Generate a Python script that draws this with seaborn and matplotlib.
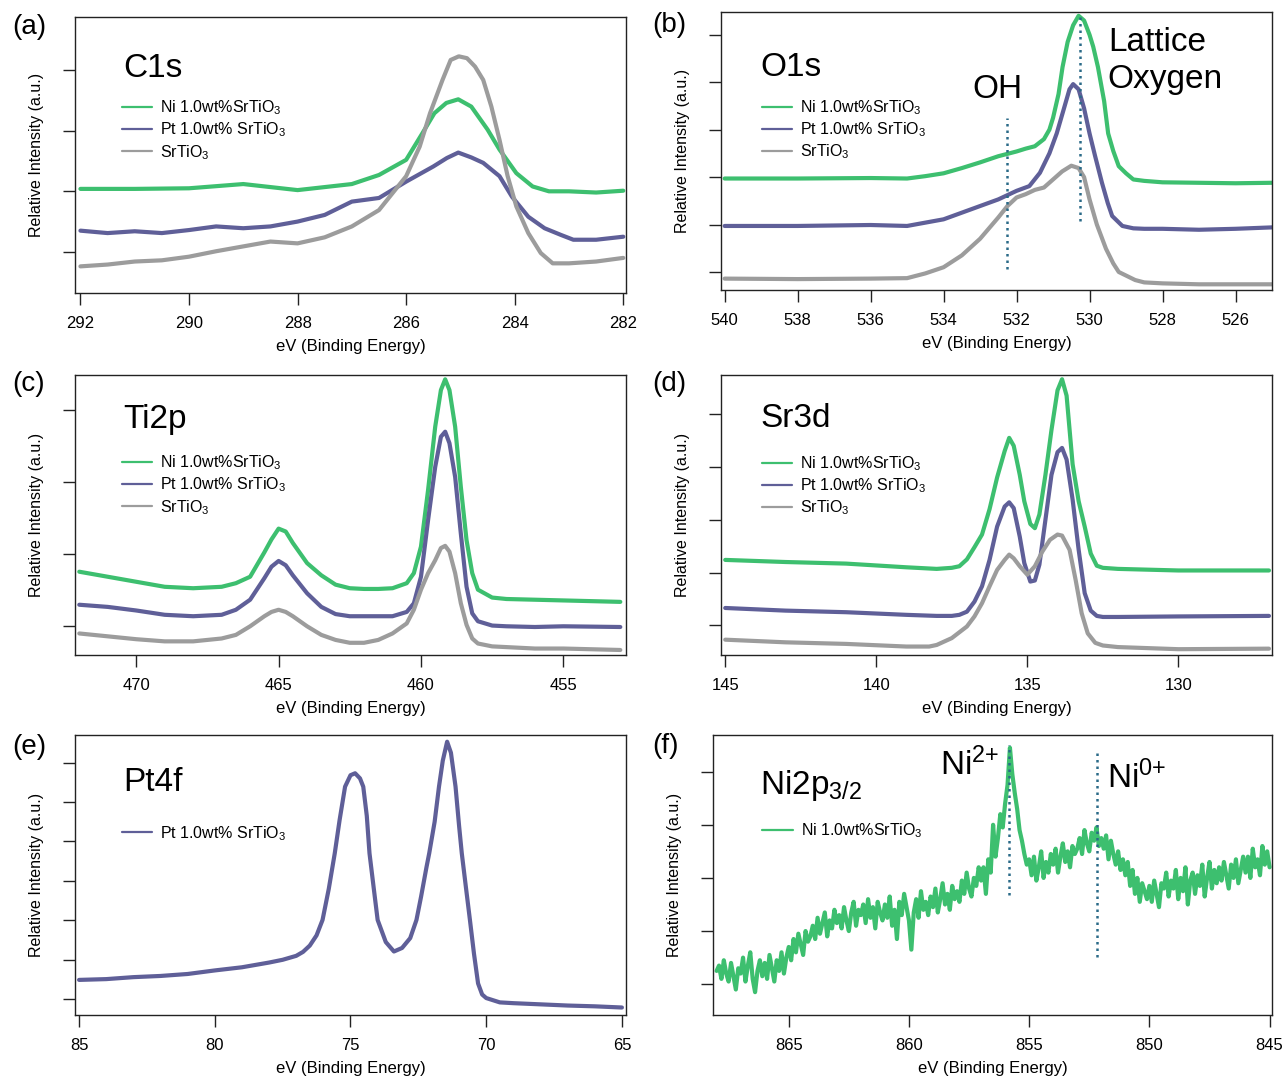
import numpy as np
import pandas as pd
import seaborn as sns
import matplotlib.pyplot as plt

# Colores
GREEN = "#3dbf6f"
PURPLE = "#5f5f98"
GRAY = "#9c9c9c"
DOT = "#2a6a88"

LAB_NI = r"Ni 1.0wt%SrTiO$_3$"
LAB_PT = r"Pt 1.0wt% SrTiO$_3$"
LAB_ST = r"SrTiO$_3$"

# ---- (a) C1s ----
c1s_ni_ev = [292, 291, 290, 289, 288, 287.5, 287, 286.5, 286, 285.7, 285.48, 285.26, 285.04,
             284.8, 284.5, 284.28, 283.97, 283.67, 283.37, 283, 282.5, 282]
c1s_ni = [1.04, 1.04, 1.05, 1.12, 1.02, 1.07, 1.12, 1.27, 1.52, 1.96, 2.29, 2.46, 2.52,
          2.40, 2.02, 1.69, 1.30, 1.08, 1.00, 1.00, 0.98, 1.01]
c1s_pt_ev = [292, 291.5, 291, 290.5, 290, 289.5, 289, 288.5, 288, 287.5, 287, 286.5, 286,
             285.5, 285.25, 285.04, 284.8, 284.58, 284.28, 284.05, 283.75, 283.45, 283.15,
             282.92, 282.5, 282]
c1s_pt = [0.35, 0.31, 0.34, 0.31, 0.36, 0.42, 0.39, 0.42, 0.50, 0.61, 0.83, 0.89, 1.16,
          1.41, 1.55, 1.64, 1.56, 1.47, 1.25, 0.91, 0.58, 0.39, 0.28, 0.20, 0.20, 0.25]
c1s_st_ev = [292, 291.5, 291, 290.5, 290, 289.5, 289, 288.5, 288, 287.5, 287, 286.5, 286,
             285.75, 285.56, 285.33, 285.18, 285.03, 284.88, 284.73, 284.58, 284.43, 284.28,
             284.13, 283.97, 283.75, 283.52, 283.3, 283, 282.5, 282]
c1s_st = [-0.24, -0.21, -0.16, -0.14, -0.08, 0.01, 0.09, 0.17, 0.14, 0.24, 0.42, 0.69, 1.25,
          1.74, 2.29, 2.84, 3.17, 3.23, 3.20, 3.06, 2.84, 2.40, 1.85, 1.25, 0.75, 0.31, -0.02,
          -0.19, -0.19, -0.16, -0.10]

# ---- (b) O1s ----
o1s_ni_ev = [540, 538, 536, 535, 534.5, 534, 533.5, 533, 532.5, 532, 531.75, 531.5, 531.25,
             531.1, 531, 530.85, 530.74, 530.6, 530.45, 530.3, 530.15, 530.0, 529.9, 529.77,
             529.6, 529.49, 529.35, 529.2, 529.0, 528.8, 528.5, 528, 527, 526, 525]
o1s_ni = [1.97, 1.97, 1.98, 1.97, 2.02, 2.08, 2.19, 2.31, 2.44, 2.54, 2.60, 2.65, 2.80,
          3.00, 3.25, 3.75, 4.32, 4.85, 5.20, 5.40, 5.30, 5.00, 4.75, 4.32,
          3.60, 2.92, 2.55, 2.23, 2.08, 1.95, 1.92, 1.89, 1.88, 1.87, 1.88]
o1s_pt_ev = [540, 538, 536, 535, 534.5, 534, 533.5, 533, 532.5, 532, 531.65, 531.36, 531.1,
             530.9, 530.7, 530.55, 530.45, 530.3, 530.15, 530.0, 529.85, 529.66, 529.5,
             529.38, 529.1, 528.8, 528.5, 528, 527, 526, 525]
o1s_pt = [0.97, 0.97, 0.99, 0.97, 1.04, 1.11, 1.25, 1.39, 1.53, 1.71, 1.81, 2.09, 2.50,
          2.92, 3.45, 3.85, 3.96, 3.85, 3.45, 2.92, 2.45, 1.88, 1.45,
          1.18, 0.97, 0.92, 0.91, 0.91, 0.89, 0.91, 0.94]
o1s_st_ev = [540, 538, 536, 535, 534.5, 534, 533.5, 533, 532.5, 532.25, 532, 531.75, 531.5,
             531.25, 531, 530.75, 530.5, 530.3, 530.15, 530.0, 529.8, 529.55, 529.35, 529.2,
             528.75, 528.5, 528, 527, 526, 525]
o1s_st = [-0.14, -0.15, -0.14, -0.13, -0.03, 0.10, 0.35, 0.70, 1.15, 1.39, 1.57, 1.64, 1.73,
          1.78, 1.95, 2.12, 2.24, 2.19, 2.00, 1.53, 1.00, 0.49, 0.18, 0.00,
          -0.17, -0.22, -0.24, -0.26, -0.26, -0.26]
oh_line = (532.25, 0.07, 3.24)
lattice_line = (530.25, 1.08, 5.45)

# ---- (c) Ti2p ----
ti_ev = [472, 471, 470, 469, 468, 467, 466.5, 466, 465.5, 465.25, 465, 464.75, 464.5, 464,
         463.5, 463, 462.5, 462, 461.5, 461, 460.5, 460.25, 460, 459.75, 459.5, 459.3,
         459.15, 459.0, 458.8, 458.6, 458.4, 458.2, 458, 457.5, 457, 456, 455, 453]
ti_ni = [0.75, 0.68, 0.61, 0.54, 0.52, 0.54, 0.59, 0.68, 1.02, 1.20, 1.35, 1.31, 1.15, 0.87,
         0.70, 0.57, 0.52, 0.51, 0.51, 0.52, 0.59, 0.73, 1.10, 1.89, 2.77, 3.28,
         3.43, 3.28, 2.77, 1.93, 1.19, 0.73, 0.50, 0.39, 0.37, 0.36, 0.35, 0.33]
ti_pt = [0.29, 0.26, 0.21, 0.15, 0.13, 0.15, 0.22, 0.36, 0.66, 0.82, 0.90, 0.84, 0.70, 0.45,
         0.26, 0.16, 0.13, 0.13, 0.13, 0.13, 0.19, 0.31, 0.68, 1.47, 2.21, 2.63,
         2.70, 2.54, 2.07, 1.28, 0.54, 0.17, 0.06, 0.00, -0.01, -0.02, -0.01, -0.02]
ti_st = [-0.11, -0.15, -0.19, -0.22, -0.22, -0.18, -0.13, -0.01, 0.13, 0.19, 0.22, 0.19, 0.13,
         -0.01, -0.13, -0.20, -0.24, -0.24, -0.20, -0.11, 0.03, 0.22, 0.50, 0.73, 0.91, 1.08,
         1.11, 1.03, 0.73, 0.31, 0.01, -0.18, -0.25, -0.29, -0.30, -0.32, -0.32, -0.34]

# ---- (d) Sr3d ----
sr_ev = [145, 143, 141, 139, 138, 137.5, 137.25, 137, 136.75, 136.5, 136.25, 136, 135.75,
         135.6, 135.45, 135.25, 135.1, 134.9, 134.75, 134.6, 134.4, 134.2, 134.0, 133.85,
         133.7, 133.5, 133.3, 133.1, 132.9, 132.7, 132.5, 132, 130, 127]
sr_ni = [1.24, 1.20, 1.17, 1.10, 1.07, 1.09, 1.12, 1.25, 1.48, 1.72, 2.20, 2.80, 3.30,
         3.55, 3.40, 2.85, 2.35, 1.92, 1.84, 2.10, 2.85, 3.70, 4.45, 4.66,
         4.35, 3.05, 2.35, 1.87, 1.36, 1.13, 1.09, 1.07, 1.04, 1.04]
sr_pt = [0.33, 0.28, 0.25, 0.20, 0.18, 0.18, 0.20, 0.26, 0.45, 0.74, 1.24, 1.87, 2.25,
         2.33, 2.22, 1.68, 1.18, 0.83, 0.85, 1.15, 2.00, 2.85, 3.28, 3.36,
         3.14, 2.38, 1.43, 0.61, 0.28, 0.18, 0.16, 0.16, 0.17, 0.18]
sr_st_ev = [145, 143, 141, 139, 138.25, 138, 137.5, 137, 136.75, 136.5, 136.25, 136, 135.75,
            135.6, 135.45, 135.25, 135.0, 134.75, 134.5, 134.25, 134.0, 133.85, 133.6, 133.4,
            133.2, 133.0, 132.75, 132.5, 132, 130, 127]
sr_st = [-0.27, -0.32, -0.35, -0.40, -0.40, -0.37, -0.24, -0.02, 0.17, 0.42, 0.74, 1.05, 1.24,
         1.34, 1.27, 1.12, 0.96, 1.12, 1.40, 1.62, 1.72, 1.70, 1.43, 0.86,
         0.23, -0.15, -0.33, -0.38, -0.41, -0.45, -0.44]

# ---- (e) Pt4f ----
pt4f_ev = [85, 84, 83, 82, 81, 80, 79, 78, 77.5, 77, 76.75, 76.5, 76.25, 76.03, 75.8, 75.58,
           75.4, 75.2, 75.0, 74.83, 74.65, 74.53, 74.4, 74.3, 74.15, 74.0, 73.7, 73.4, 73.1,
           72.8, 72.57, 72.4, 72.2, 72.1, 71.9, 71.74, 71.6, 71.44, 71.3, 71.13, 71.0, 70.9,
           70.75, 70.6, 70.45, 70.3, 70.15, 70.0, 69.5, 69, 68, 67, 66, 65]
pt4f_pt = [0.49, 0.51, 0.56, 0.59, 0.64, 0.73, 0.81, 0.93, 1.00, 1.10, 1.20, 1.36, 1.62, 2.01,
           2.80, 3.70, 4.55, 5.39, 5.68, 5.73, 5.60, 5.39, 4.65, 3.70, 2.85, 2.01, 1.45, 1.21,
           1.30, 1.55, 2.01, 2.60, 3.35, 3.70, 4.50, 5.39, 6.05, 6.53, 6.25, 5.39, 4.40, 3.70,
           2.85, 2.01, 1.15, 0.40, 0.12, 0.03, -0.08, -0.10, -0.13, -0.16, -0.18, -0.21]

# ---- (f) Ni2p3/2 (868.0 -> 845.0 eV, 0.1 eV) ----
ni2p_ev = np.round(np.arange(868.0, 844.95, -0.1), 1)
ni2p_ni = [
    0.25, 0.35, 0.10, 0.45, 0.20, 0.05, 0.40, 0.15, -0.10, 0.30,
    0.20, 0.50, 0.05, 0.35, 0.60, 0.10, -0.15, 0.25, 0.45, 0.15,
    0.40, 0.10, 0.55, 0.30, 0.05, 0.45, 0.25, 0.60, 0.20, 0.50,
    0.70, 0.45, 0.85, 0.60, 0.95, 0.75, 0.55, 1.00, 0.80, 0.90,
    1.10, 0.85, 1.25, 0.95, 1.15, 1.35, 0.90, 1.20, 1.05, 1.40,
    1.15, 1.30, 1.05, 1.45, 1.20, 1.00, 1.35, 1.55, 1.10, 1.40,
    1.30, 1.50, 1.15, 1.60, 1.25, 1.45, 1.05, 1.55, 1.35, 1.20,
    1.50, 1.25, 1.65, 1.10, 1.40, 0.85, 1.55, 1.30, 1.70, 1.45,
    1.20, 0.65, 1.35, 1.60, 1.25, 1.75, 1.40, 1.55, 1.30, 1.65,
    1.45, 1.80, 1.35, 1.60, 1.90, 1.50, 1.70, 1.40, 1.85, 1.60,
    1.75, 1.55, 1.95, 1.70, 2.10, 1.80, 1.65, 2.00, 1.85, 2.20,
    1.95, 2.20, 1.70, 2.35, 2.10, 3.00, 2.40, 2.75, 3.20, 2.95,
    3.40, 3.75, 4.45, 3.95, 3.60, 3.30, 2.90, 2.70, 2.45, 2.25,
    2.35, 2.05, 2.40, 1.95, 2.20, 2.50, 2.00, 2.30, 2.10, 2.45,
    2.25, 2.55, 2.10, 2.40, 2.65, 2.30, 2.50, 2.20, 2.60, 2.45,
    2.55, 2.75, 2.45, 2.90, 2.65, 2.50, 2.85, 2.70, 2.95, 2.60,
    2.75, 2.55, 2.80, 2.35, 2.70, 2.45, 2.25, 2.50, 2.15, 2.35,
    2.05, 2.30, 1.85, 2.15, 1.70, 2.00, 1.55, 1.90, 1.75, 1.60,
    1.85, 1.55, 1.95, 1.70, 1.45, 1.90, 1.80, 2.10, 1.65, 1.95,
    1.80, 2.15, 1.60, 2.00, 1.75, 2.20, 1.50, 1.95, 2.10, 1.70,
    2.05, 1.85, 2.25, 1.65, 2.00, 2.30, 1.80, 2.15, 1.90, 2.20,
    1.95, 2.30, 2.05, 1.80, 2.25, 2.00, 2.35, 1.90, 2.15, 2.40,
    2.10, 2.40, 2.00, 2.55, 2.20, 2.35, 2.05, 2.60, 2.25, 2.50,
    2.20]
ni2_line = (855.82, 1.68, 4.51)
ni0_line = (852.19, 0.51, 4.41)

# ---- Estilo ----
sns.set_theme(style="ticks")
plt.rcParams["font.family"] = ["Liberation Sans", "DejaVu Sans"]
plt.rcParams["mathtext.fontset"] = "custom"
plt.rcParams["mathtext.rm"] = "Liberation Sans"
plt.rcParams["mathtext.it"] = "Liberation Sans:italic"
plt.rcParams["mathtext.bf"] = "Liberation Sans:bold"
plt.rcParams["text.color"] = "black"
plt.rcParams["axes.labelcolor"] = "black"

W, H = 1284, 1076
fig = plt.figure(figsize=(W / 100, H / 100), dpi=100)


def box(l, t, r, b):
    return [l / W, 1 - b / H, (r - l) / W, (b - t) / H]


def setup(ax, xlim, ylim, xticks, nticks):
    ax.set_xlim(*xlim)
    ax.set_ylim(*ylim)
    ax.set_xticks(xticks)
    ax.set_xticklabels([str(t) for t in xticks])
    ax.set_yticks(range(nticks))
    ax.set_yticklabels([])
    ax.set_xlabel("eV (Binding Energy)", fontsize=12, labelpad=6)
    ax.set_ylabel("Relative Intensity (a.u.)", fontsize=11.5, labelpad=6)
    ax.tick_params(direction="out", length=8.5, width=1, labelsize=12, pad=8,
                   color="#222222", labelcolor="black")
    for s in ax.spines.values():
        s.set_linewidth(1)
        s.set_color("#222222")


def curve(ax, ev, vals, color, label):
    sns.lineplot(x=ev, y=vals, ax=ax, color=color, label=label, linewidth=3, sort=False)


def legend(ax, x, y):
    leg = ax.legend(loc="upper left", bbox_to_anchor=(x, y), frameon=False, fontsize=11.5,
                    handlelength=1.9, handletextpad=0.5, labelspacing=0.22, borderpad=0,
                    borderaxespad=0)
    for ln in leg.get_lines():
        ln.set_linewidth(1.6)


def vdot(ax, line):
    ax.vlines(line[0], line[1], line[2], colors=DOT, linewidth=1.8, linestyles=(0, (1, 1.6)))


# (a)
ax = fig.add_axes(box(75, 17, 626, 293))
curve(ax, c1s_ni_ev, c1s_ni, GREEN, LAB_NI)
curve(ax, c1s_pt_ev, c1s_pt, PURPLE, LAB_PT)
curve(ax, c1s_st_ev, c1s_st, GRAY, LAB_ST)
setup(ax, (292.1, 281.95), (-0.68, 3.88), [292, 290, 288, 286, 284, 282], 4)
ax.text(0.087, 0.815, "C1s", transform=ax.transAxes, fontsize=24, ha="left", va="center")
legend(ax, 0.085, 0.705)

# (b)
ax = fig.add_axes(box(721, 12, 1272, 290))
curve(ax, o1s_ni_ev, o1s_ni, GREEN, LAB_NI)
curve(ax, o1s_pt_ev, o1s_pt, PURPLE, LAB_PT)
curve(ax, o1s_st_ev, o1s_st, GRAY, LAB_ST)
vdot(ax, oh_line)
vdot(ax, lattice_line)
setup(ax, (540.1, 525.0), (-0.38, 5.48), [540, 538, 536, 534, 532, 530, 528, 526], 6)
ax.text(0.071, 0.80, "O1s", transform=ax.transAxes, fontsize=24, ha="left", va="center")
ax.text(0.456, 0.72, "OH", transform=ax.transAxes, fontsize=24, ha="left", va="center")
ax.text(0.702, 0.822, "Lattice\nOxygen", transform=ax.transAxes, fontsize=24, ha="left",
        va="center", linespacing=1.25)
legend(ax, 0.074, 0.69)

# (c)
ax = fig.add_axes(box(75, 375, 626, 655))
curve(ax, ti_ev, ti_ni, GREEN, LAB_NI)
curve(ax, ti_ev, ti_pt, PURPLE, LAB_PT)
curve(ax, ti_ev, ti_st, GRAY, LAB_ST)
setup(ax, (472.15, 452.8), (-0.41, 3.49), [470, 465, 460, 455], 4)
ax.text(0.087, 0.84, "Ti2p", transform=ax.transAxes, fontsize=24, ha="left", va="center")
legend(ax, 0.085, 0.72)

# (d)
ax = fig.add_axes(box(721, 375, 1272, 655))
curve(ax, sr_ev, sr_ni, GREEN, LAB_NI)
curve(ax, sr_ev, sr_pt, PURPLE, LAB_PT)
curve(ax, sr_st_ev, sr_st, GRAY, LAB_ST)
setup(ax, (145.14, 126.9), (-0.56, 4.74), [145, 140, 135, 130], 5)
ax.text(0.071, 0.843, "Sr3d", transform=ax.transAxes, fontsize=24, ha="left", va="center")
legend(ax, 0.074, 0.717)

# (e)
ax = fig.add_axes(box(75, 735, 626, 1015))
curve(ax, pt4f_ev, pt4f_pt, PURPLE, LAB_PT)
setup(ax, (85.15, 64.85), (-0.40, 6.70), [85, 80, 75, 70, 65], 7)
ax.text(0.087, 0.832, "Pt4f", transform=ax.transAxes, fontsize=24, ha="left", va="center")
legend(ax, 0.085, 0.682)

# (f)
ax = fig.add_axes(box(713, 735, 1272, 1015))
curve(ax, ni2p_ev, ni2p_ni, GREEN, LAB_NI)
vdot(ax, ni2_line)
vdot(ax, ni0_line)
setup(ax, (868.15, 844.9), (-0.58, 4.69), [865, 860, 855, 850, 845], 5)
ax.text(0.084, 0.82, r"Ni2p$_{3/2}$", transform=ax.transAxes, fontsize=24, ha="left",
        va="center")
ax.text(0.406, 0.893, r"Ni$^{\text{2+}}$", transform=ax.transAxes, fontsize=24, ha="left",
        va="center")
ax.text(0.705, 0.846, r"Ni$^{\text{0+}}$", transform=ax.transAxes, fontsize=24, ha="left",
        va="center")
legend(ax, 0.088, 0.69)

# Etiquetas de panel
for lab, x, y in [("(a)", 12, 27), ("(b)", 652, 25), ("(c)", 12, 384),
                  ("(d)", 652, 384), ("(e)", 12, 747), ("(f)", 652, 746)]:
    fig.text(x / W, 1 - y / H, lab, fontsize=20, ha="left", va="center")

fig.savefig("out.png", dpi=100)
